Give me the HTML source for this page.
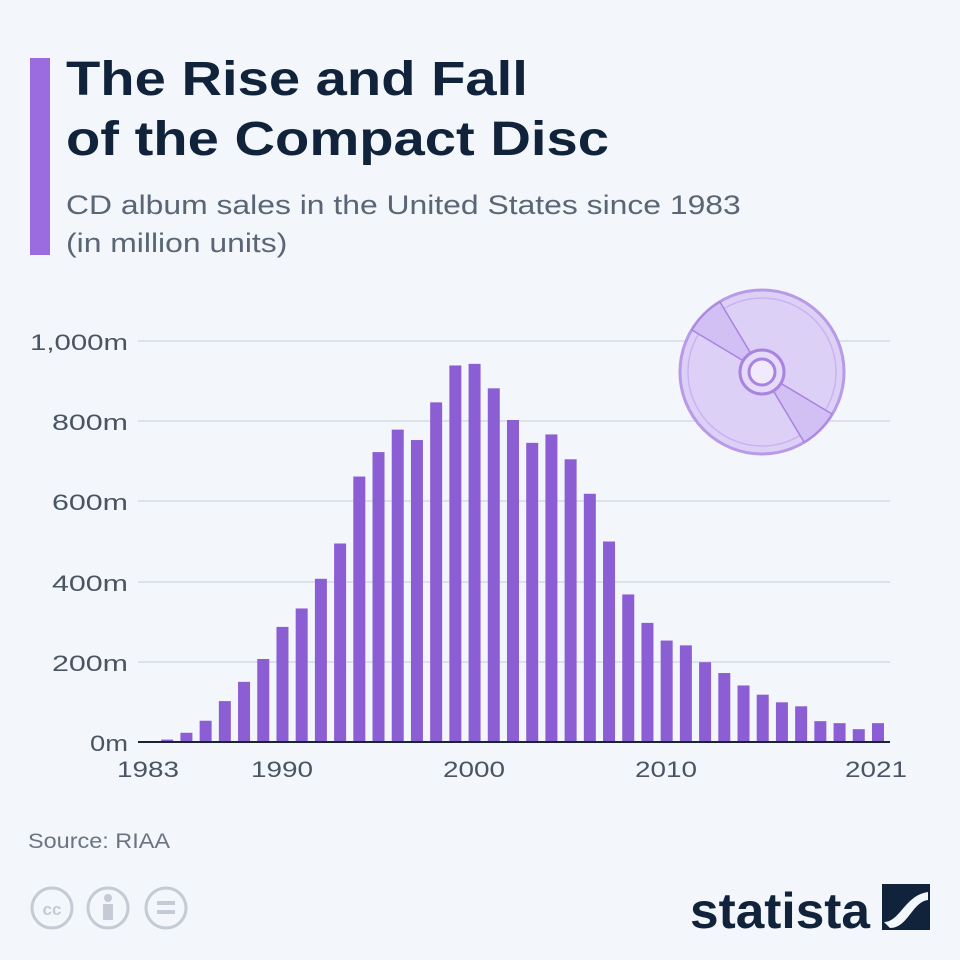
<!DOCTYPE html>
<html><head><meta charset="utf-8"><style>
body{margin:0;width:960px;height:960px;background:#f3f6fa;font-family:"Liberation Sans",sans-serif;overflow:hidden;position:relative}
.t{position:absolute;left:66px;color:#10233a;font-weight:bold;font-size:48px;line-height:60px;top:50px;transform:scaleX(1.17);transform-origin:0 0;white-space:nowrap}
.s{position:absolute;left:66px;top:186px;color:#5a6675;font-size:27px;line-height:38px;transform:scaleX(1.18);transform-origin:0 0;white-space:nowrap}
.acc{position:absolute;left:30px;top:58px;width:20px;height:197px;background:#9b6ce0}
</style></head><body>
<div class="acc"></div>
<div class="t">The Rise and Fall<br>of the Compact Disc</div>
<div class="s">CD album sales in the United States since 1983<br>(in million units)</div>
<svg width="960" height="960" style="position:absolute;left:0;top:0" font-family="Liberation Sans, sans-serif">
<g stroke="#d5dbe3" stroke-width="1.5">
<line x1="138" y1="341" x2="890" y2="341"/><line x1="138" y1="421" x2="890" y2="421"/><line x1="138" y1="501" x2="890" y2="501"/><line x1="138" y1="582" x2="890" y2="582"/><line x1="138" y1="662" x2="890" y2="662"/>
</g>
<g fill="#4a5564" font-size="22" text-anchor="end">
<text x="128" y="350" textLength="98" lengthAdjust="spacingAndGlyphs">1,000m</text><text x="128" y="430" textLength="76" lengthAdjust="spacingAndGlyphs">800m</text><text x="128" y="510" textLength="76" lengthAdjust="spacingAndGlyphs">600m</text><text x="128" y="591" textLength="76" lengthAdjust="spacingAndGlyphs">400m</text><text x="128" y="671" textLength="76" lengthAdjust="spacingAndGlyphs">200m</text><text x="128" y="751" textLength="38" lengthAdjust="spacingAndGlyphs">0m</text>
</g>
<g fill="#4a5564" font-size="22" text-anchor="middle">
<text x="148" y="777" textLength="62" lengthAdjust="spacingAndGlyphs">1983</text><text x="282" y="777" textLength="62" lengthAdjust="spacingAndGlyphs">1990</text><text x="474" y="777" textLength="62" lengthAdjust="spacingAndGlyphs">2000</text><text x="666" y="777" textLength="62" lengthAdjust="spacingAndGlyphs">2010</text><text x="876" y="777" textLength="62" lengthAdjust="spacingAndGlyphs">2021</text>
</g>
<g fill="#8c5ed4" id="bars"></g>
<line x1="138" y1="742" x2="890" y2="742" stroke="#1a2533" stroke-width="2"/>
<g transform="translate(762,372)">
<circle r="82" fill="#ddd0f7" stroke="#b89ae8" stroke-width="3"/>
<circle r="74" fill="none" stroke="#c9b3f0" stroke-width="1.5"/>
<path d="M0 0 L-70 -42 A82 82 0 0 1 -42 -70 Z M0 0 L70 42 A82 82 0 0 1 42 70 Z" fill="#d2bff4" stroke="#a883e0" stroke-width="1.5"/>
<circle r="22" fill="#e6dafa" stroke="#a883e0" stroke-width="3"/>
<circle r="13" fill="#f0eafc" stroke="#a883e0" stroke-width="3"/>
</g>
<text x="28" y="848" fill="#6a7482" font-size="21" textLength="142" lengthAdjust="spacingAndGlyphs">Source: RIAA</text>
<g fill="none" stroke="#c4cbd4" stroke-width="3">
<circle cx="52" cy="908" r="20"/><circle cx="108" cy="908" r="20"/><circle cx="166" cy="908" r="20"/>
</g>
<text x="52" y="915" fill="#c4cbd4" font-size="17" font-weight="bold" text-anchor="middle">cc</text>
<circle cx="108" cy="898" r="4" fill="#c4cbd4"/><rect x="103" y="904" width="10" height="16" fill="#c4cbd4"/>
<rect x="157" y="901" width="18" height="4" fill="#c4cbd4"/><rect x="157" y="910" width="18" height="4" fill="#c4cbd4"/>
<text x="690" y="928" fill="#10233a" font-size="50" font-weight="bold" textLength="180" lengthAdjust="spacingAndGlyphs">statista</text>
<rect x="882" y="884" width="48" height="46" fill="#10233a"/>
<path d="M884 922 C900 922 905 895 928 892 L928 900 C912 902 908 928 890 928 Z" fill="#f3f6fa"/>
</svg>
<script>
var v=[1,6,23,53,102,150,207,287,333,407,495,662,723,779,753,847,939,943,882,803,746,767,705,619,500,368,297,253,241,199,172,141,118,99,89,52,47,32,47];
var g=document.getElementById('bars'),s='';
v.forEach(function(d,i){var h=d*0.401,x=148+i*19.21-6;s+='<rect x="'+x+'" y="'+(742-h)+'" width="12" height="'+h+'"/>';});
g.innerHTML=s;
</script>
</body></html>
